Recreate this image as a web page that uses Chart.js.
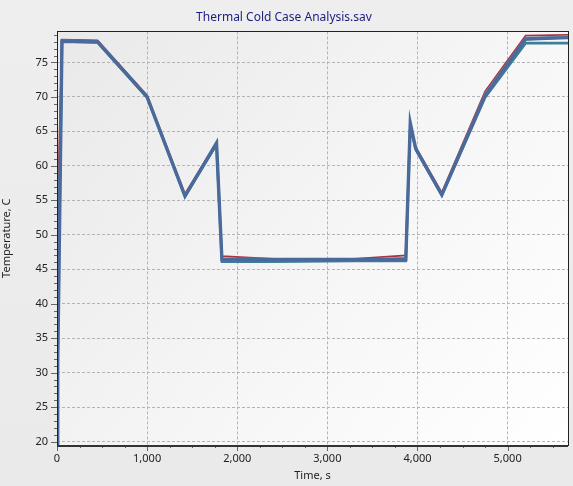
<!DOCTYPE html>
<html><head><meta charset="utf-8">
<script src="https://cdn.jsdelivr.net/npm/chart.js@4.4.1/dist/chart.umd.min.js"></script>
<style>html,body{margin:0;padding:0;background:#ececec;}#wrap{width:573px;height:486px;}</style>
</head><body><div id="wrap"><canvas id="c" width="573" height="486"></canvas></div>
<script>
const chartTitle = "Thermal Cold Case Analysis.sav";
const xTitle = "Time, s";
const yTitle = "Temperature, C";
const xTicks = [0, 1000, 2000, 3000, 4000, 5000];
const yTicks = [20, 25, 30, 35, 40, 45, 50, 55, 60, 65, 70, 75];
const times = [0, 8, 20, 55, 450, 1000, 1420, 1770, 1830, 2400, 3300, 3870, 3920, 3980, 4270, 4750, 5200, 5670];
const seriesRed   = [20.0, 31.0, 60.0, 78.3, 78.2, 70.2, 55.9, 63.4, 46.9, 46.5, 46.5, 47.0, 66.0, 62.7, 56.1, 70.8, 78.9, 79.0];
const seriesGray  = [19.8, 28.0, 55.0, 78.2, 78.1, 70.1, 55.7, 63.3, 46.6, 46.5, 46.4, 46.7, 66.1, 62.6, 55.9, 70.5, 78.6, 78.8];
const seriesGreen = [19.6, 25.0, 50.0, 78.0, 77.9, 69.9, 55.5, 63.0, 46.1, 46.2, 46.2, 46.2, 65.8, 62.3, 55.7, 70.1, 78.3, 78.6];
const seriesTeal  = [19.6, 33.0, 45.0, 78.0, 77.9, 69.9, 55.6, 63.1, 46.1, 46.1, 46.2, 46.2, 65.9, 62.4, 55.7, 69.9, 77.8, 77.8];
const seriesBlue  = [19.5, 31.5, 43.0, 78.1, 78.0, 70.0, 55.6, 63.3, 46.4, 46.4, 46.4, 46.4, 66.2, 62.5, 55.8, 70.2, 78.4, 78.6];

const toPts = v => times.map((t, i) => ({x: t, y: v[i]}));

const bgPlugin = {
  id: 'bg',
  beforeDraw(chart) {
    const ctx = chart.ctx, a = chart.chartArea;
    ctx.save();
    let g = ctx.createLinearGradient(0, 0, 0, chart.height);
    g.addColorStop(0, '#eeeeee'); g.addColorStop(1, '#eaeaea');
    ctx.fillStyle = g; ctx.fillRect(0, 0, chart.width, chart.height);
    g = ctx.createLinearGradient(a.left, a.top, a.right, a.bottom);
    g.addColorStop(0, '#e9e9e9'); g.addColorStop(0.55, '#f6f6f6'); g.addColorStop(1, '#ffffff');
    ctx.fillStyle = g; ctx.fillRect(a.left, a.top, a.right - a.left, a.bottom - a.top);
    ctx.restore();
  },
  afterDraw(chart) {
    const ctx = chart.ctx, a = chart.chartArea;
    const xs = chart.scales.x, ys = chart.scales.y;
    ctx.save();
    ctx.strokeStyle = '#666'; ctx.lineWidth = 1;
    for (let v = 20; v <= 79; v += 1) {
      const y = Math.round(ys.getPixelForValue(v)) + 0.5;
      const len = (v % 5 === 0) ? 6 : 3;
      ctx.beginPath(); ctx.moveTo(a.left - len, y); ctx.lineTo(a.left, y); ctx.stroke();
    }
    for (let v = 0; v <= 5670; v += 250) {
      const x = Math.round(xs.getPixelForValue(v)) + 0.5;
      const len = (v % 1000 === 0) ? 6 : 3;
      ctx.beginPath(); ctx.moveTo(x, a.bottom); ctx.lineTo(x, a.bottom + len); ctx.stroke();
    }
    ctx.strokeStyle = '#222'; ctx.lineWidth = 1;
    ctx.strokeRect(Math.round(a.left) + 0.5, Math.round(a.top) + 0.5, Math.round(a.right - a.left), Math.round(a.bottom - a.top));
    ctx.strokeStyle = '#333'; ctx.lineWidth = 2;
    ctx.beginPath(); ctx.moveTo(a.left, Math.round(a.bottom)+1); ctx.lineTo(a.right, Math.round(a.bottom)+1); ctx.stroke();
    ctx.restore();
  }
};

const mk = (label, data, color, w) => ({label, data: toPts(data), borderColor: color, borderWidth: w, pointRadius: 0, tension: 0, fill: false});

new Chart(document.getElementById('c'), {
  type: 'line',
  data: {
    datasets: [
      mk('Node 5', seriesBlue, '#4a6a9c', 3.4),
      mk('Node 4', seriesTeal, '#3d7f98', 2.6),
      mk('Node 3', seriesGreen, '#3e8a78', 1.6),
      mk('Node 2', seriesGray, '#8d9bb0', 1.6),
      mk('Node 1', seriesRed, '#a8343e', 1.8)
    ]
  },
  options: {
    responsive: false, animation: false,
    layout: {padding: {left: 0, right: 5, top: 0, bottom: 0}},
    plugins: {
      legend: {display: false}, tooltip: {enabled: false},
      title: {display: true, text: chartTitle, color: '#1c1c84', font: {family: 'Noto Sans', size: 12, weight: 'normal'}, padding: {top: 10, bottom: 7}}
    },
    scales: {
      x: {
        type: 'linear', min: 0, max: 5670,
        afterBuildTicks: s => { s.ticks = xTicks.map(v => ({value: v})); },
        afterFit: s => { s.height = 41; },
        ticks: {color: '#222', font: {family: 'Noto Sans', size: 11}, padding: 7, maxRotation: 0},
        grid: {color: '#b4b4b4', drawTicks: false, lineWidth: 1},
        border: {display: false, dash: [3, 2]},
        title: {display: true, text: xTitle, color: '#222', font: {family: 'Noto Sans', size: 11}, padding: {top: 0, bottom: 4}}
      },
      y: {
        type: 'linear', min: 19.5, max: 79.5,
        afterBuildTicks: s => { s.ticks = yTicks.map(v => ({value: v})); },
        afterFit: s => { s.width = 57; },
        ticks: {color: '#222', font: {family: 'Noto Sans', size: 11}, padding: 9},
        grid: {color: '#b4b4b4', drawTicks: false, lineWidth: 1},
        border: {display: false, dash: [3, 2]},
        title: {display: true, text: yTitle, color: '#222', font: {family: 'Noto Sans', size: 11}, padding: {top: 0, bottom: 0}}
      }
    }
  },
  plugins: [bgPlugin]
});
</script></body></html>
